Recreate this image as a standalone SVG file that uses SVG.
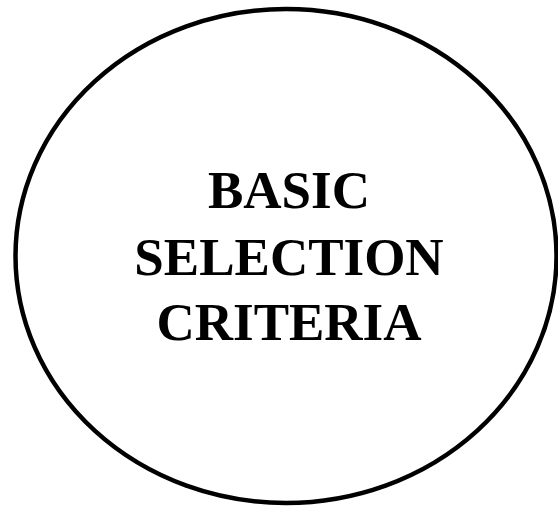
<svg xmlns="http://www.w3.org/2000/svg" width="558" height="506" viewBox="0 0 558 506">
<style>
.shape{fill:#fff;stroke:#000;stroke-width:4.5}
.label{font-family:"Liberation Serif","Times New Roman",serif;font-weight:bold;font-size:53px;fill:#000;text-anchor:middle}
</style>
<rect width="558" height="506" fill="#fff"/>
<g id="connectors"></g>
<g id="node-basic-selection-criteria">
<ellipse class="shape" cx="286" cy="256" rx="270.5" ry="247"/>
<text class="label" x="289" y="208">BASIC</text>
<text class="label" x="289" y="275">SELECTION</text>
<text class="label" x="289" y="340">CRITERIA</text>
</g>
</svg>
